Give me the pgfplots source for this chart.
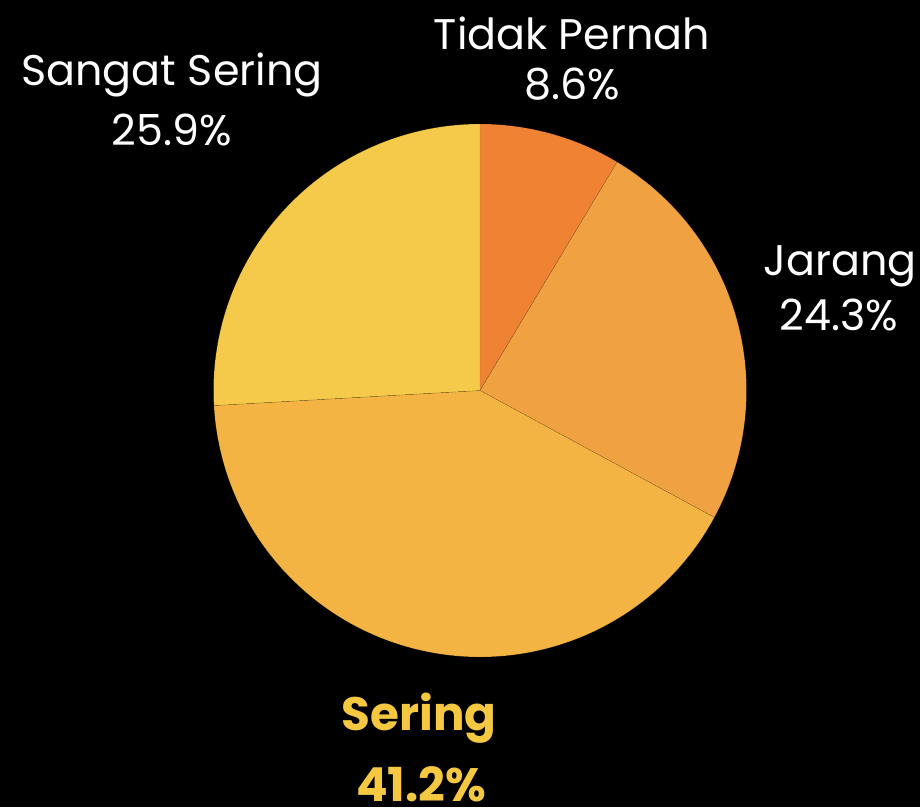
\documentclass[border=0pt]{standalone}
\usepackage{pgfplots}
\pgfplotsset{compat=1.18}
\usepackage{pgfplotstable}
\usetikzlibrary{backgrounds}
\usepackage{fontspec}
\setmainfont{Poppins}
\definecolor{cTidak}{HTML}{EF8333}
\definecolor{cJarang}{HTML}{F0A142}
\definecolor{cSering}{HTML}{F3B444}
\definecolor{cSangat}{HTML}{F5C94A}
\definecolor{cLabel}{HTML}{F5C842}
\pgfplotstableread{
label pct
TidakPernah 8.6
Jarang 24.3
Sering 41.2
SangatSering 25.9
}\piedata
\pgfplotstablegetelem{0}{pct}\of\piedata \let\pA\pgfplotsretval
\pgfplotstablegetelem{1}{pct}\of\piedata \let\pB\pgfplotsretval
\pgfplotstablegetelem{2}{pct}\of\piedata \let\pC\pgfplotsretval
\pgfplotstablegetelem{3}{pct}\of\piedata \let\pD\pgfplotsretval
\pgfmathsetmacro\aA{90}
\pgfmathsetmacro\aB{\aA-3.6*\pA}
\pgfmathsetmacro\aC{\aB-3.6*\pB}
\pgfmathsetmacro\aD{\aC-3.6*\pC}
\pgfmathsetmacro\aE{\aD-3.6*\pD}
\def\cx{480}
\def\cy{390.5}
\def\R{266.5}
\begin{document}
\begin{tikzpicture}[background rectangle/.style={fill=black}, show background rectangle, inner frame sep=0pt]
\begin{axis}[width=920bp, height=807bp, scale only axis,
  xmin=0, xmax=920, ymin=0, ymax=807, y dir=reverse,
  hide axis, clip=false]
\addplot[fill=cTidak, draw=black, draw opacity=0.25, line width=0.4pt, domain=\aB:\aA, samples=80, variable=\t]
  ({\cx+\R*cos(\t)}, {\cy-\R*sin(\t)}) -- (\cx,\cy) -- cycle;
\addplot[fill=cJarang, draw=black, draw opacity=0.25, line width=0.4pt, domain=\aC:\aB, samples=120, variable=\t]
  ({\cx+\R*cos(\t)}, {\cy-\R*sin(\t)}) -- (\cx,\cy) -- cycle;
\addplot[fill=cSering, draw=black, draw opacity=0.25, line width=0.4pt, domain=\aD:\aC, samples=160, variable=\t]
  ({\cx+\R*cos(\t)}, {\cy-\R*sin(\t)}) -- (\cx,\cy) -- cycle;
\addplot[fill=cSangat, draw=black, draw opacity=0.25, line width=0.4pt, domain=\aE:\aD, samples=120, variable=\t]
  ({\cx+\R*cos(\t)}, {\cy-\R*sin(\t)}) -- (\cx,\cy) -- cycle;
\tikzset{lbl/.style={anchor=base, text=white, overlay, inner sep=0pt, font=\fontsize{43}{50}\selectfont}}
\node[lbl] at (572,50) {Tidak Pernah};
\node[lbl] at (572,100) {8.6\%};
\node[lbl] at (172,86) {Sangat Sering};
\node[lbl] at (172,146) {25.9\%};
\node[lbl] at (840,275) {Jarang};
\node[lbl] at (839,330) {24.3\%};
\node[lbl, text=cLabel, font=\bfseries\fontsize{47}{56}\selectfont] at (419,730) {Sering};
\node[lbl, text=cLabel, font=\bfseries\fontsize{47}{56}\selectfont] at (421,801) {41.2\%};
\end{axis}
\pgfresetboundingbox
\path[use as bounding box] (current axis.south west) rectangle (current axis.north east);
\end{tikzpicture}
\end{document}
